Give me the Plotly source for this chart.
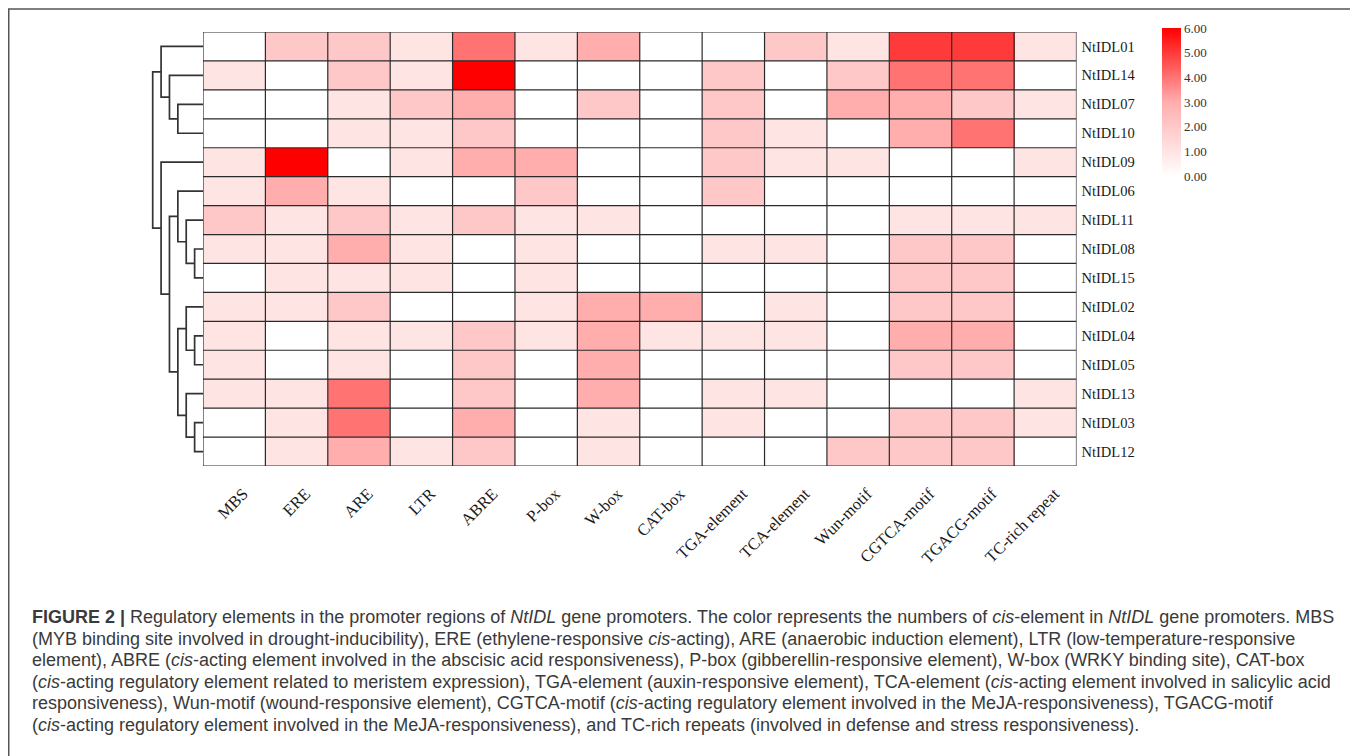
import plotly.graph_objects as go

# The page body has an 8px margin, so the figure is sized to fill the window exactly
OFF = 8
W, H = 1358 - OFF, 756 - OFF

elements = ["MBS", "ERE", "ARE", "LTR", "ABRE", "P-box", "W-box", "CAT-box",
            "TGA-element", "TCA-element", "Wun-motif", "CGTCA-motif", "TGACG-motif",
            "TC-rich repeat"]
genes = ["NtIDL01", "NtIDL14", "NtIDL07", "NtIDL10", "NtIDL09", "NtIDL06", "NtIDL11",
         "NtIDL08", "NtIDL15", "NtIDL02", "NtIDL04", "NtIDL05", "NtIDL13", "NtIDL03",
         "NtIDL12"]

# counts of cis-elements (rows follow genes, columns follow elements)
NtIDL01 = [0, 2, 2, 1, 4, 1, 3, 0, 0, 2, 1, 5, 5, 1]
NtIDL14 = [1, 0, 2, 1, 6, 0, 0, 0, 2, 0, 2, 4, 4, 0]
NtIDL07 = [0, 0, 1, 2, 3, 0, 2, 0, 2, 0, 3, 3, 2, 1]
NtIDL10 = [0, 0, 1, 1, 2, 0, 0, 0, 2, 1, 0, 3, 4, 0]
NtIDL09 = [1, 6, 0, 1, 3, 3, 0, 0, 2, 1, 1, 0, 0, 1]
NtIDL06 = [1, 3, 1, 0, 0, 2, 0, 0, 2, 0, 0, 0, 0, 0]
NtIDL11 = [2, 1, 2, 1, 2, 1, 1, 0, 0, 0, 0, 1, 1, 1]
NtIDL08 = [1, 1, 3, 1, 0, 1, 0, 0, 1, 1, 0, 2, 2, 0]
NtIDL15 = [0, 1, 1, 1, 0, 1, 0, 0, 0, 0, 0, 2, 2, 0]
NtIDL02 = [1, 1, 2, 0, 0, 1, 3, 3, 0, 1, 0, 2, 2, 0]
NtIDL04 = [1, 0, 1, 1, 2, 1, 3, 1, 1, 1, 0, 3, 3, 0]
NtIDL05 = [1, 0, 1, 0, 2, 0, 3, 0, 0, 0, 0, 2, 2, 0]
NtIDL13 = [1, 1, 4, 0, 2, 0, 3, 0, 1, 1, 0, 0, 0, 1]
NtIDL03 = [0, 1, 4, 0, 3, 0, 1, 0, 1, 0, 0, 2, 2, 1]
NtIDL12 = [0, 1, 3, 1, 2, 0, 1, 0, 0, 0, 2, 2, 2, 0]
values = [NtIDL01, NtIDL14, NtIDL07, NtIDL10, NtIDL09, NtIDL06, NtIDL11, NtIDL08,
          NtIDL15, NtIDL02, NtIDL04, NtIDL05, NtIDL13, NtIDL03, NtIDL12]

# hierarchical clustering of rows: (child a, child b, height); leaves = row index
linkage = [(2, 3, 3), (1, 15, 4), (0, 16, 5),
           (7, 8, 1), (6, 18, 2), (5, 19, 3),
           (10, 11, 1), (9, 21, 2), (13, 14, 1), (12, 23, 2), (22, 24, 3),
           (20, 25, 4), (4, 26, 5), (17, 27, 6)]

cbar_ticks = [0, 1, 2, 3, 4, 5, 6]

caption_lines = [
    "<b>FIGURE 2 |</b> Regulatory elements in the promoter regions of <i>NtIDL</i> gene promoters. The color represents the numbers of <i>cis</i>-element in <i>NtIDL</i> gene promoters. MBS",
    "(MYB binding site involved in drought-inducibility), ERE (ethylene-responsive <i>cis</i>-acting), ARE (anaerobic induction element), LTR (low-temperature-responsive",
    "element), ABRE (<i>cis</i>-acting element involved in the abscisic acid responsiveness), P-box (gibberellin-responsive element), W-box (WRKY binding site), CAT-box",
    "(<i>cis</i>-acting regulatory element related to meristem expression), TGA-element (auxin-responsive element), TCA-element (<i>cis</i>-acting element involved in salicylic acid",
    "responsiveness), Wun-motif (wound-responsive element), CGTCA-motif (<i>cis</i>-acting regulatory element involved in the MeJA-responsiveness), TGACG-motif",
    "(<i>cis</i>-acting regulatory element involved in the MeJA-responsiveness), and TC-rich repeats (involved in defense and stress responsiveness).",
]

SERIF = "Liberation Serif, Times New Roman, serif"
SANS = "Liberation Sans, Arial, sans-serif"


def px(xw):
    return (xw - OFF) / W


def py(yw):
    return 1 - (yw - OFF) / H


# layout geometry (window pixels)
gx0, gx1 = 203, 1076.5
gy0, gy1 = 32, 466
dend_root, dend_left = 152.7, 150

fig = go.Figure()

colorscale = [[0.0, "#ffffff"], [0.5, "#ffadad"], [1.0, "#ff0000"]]
fig.add_trace(go.Heatmap(
    z=values, x=list(range(len(elements))), y=list(range(len(genes))),
    zmin=0, zmax=6, colorscale=colorscale, showscale=True,
    colorbar=dict(
        x=px(1161.5), xanchor="left", y=py(28), yanchor="top",
        lenmode="pixels", len=148, thickness=19, thicknessmode="pixels",
        xpad=0, ypad=0, outlinewidth=0,
        tickvals=cbar_ticks, tickformat=".2f", ticks="",
        tickfont=dict(family=SERIF, size=13, color="#333333"),
    ),
    xaxis="x", yaxis="y", hoverinfo="skip",
))

# dendrogram
n = len(genes)
pos = {i: (0.0, float(i)) for i in range(n)}
for k, (a, b, h) in enumerate(linkage):
    ha, ya = pos[a]
    hb, yb = pos[b]
    fig.add_trace(go.Scatter(
        x=[ha, h, h, hb], y=[ya, ya, yb, yb], mode="lines",
        line=dict(color="#333333", width=1.7),
        xaxis="x2", yaxis="y", showlegend=False, hoverinfo="skip",
    ))
    pos[n + k] = (float(h), (ya + yb) / 2)

# grid lines
shapes = []
for i in range(len(genes) + 1):
    shapes.append(dict(type="line", xref="x", yref="y", x0=-0.5, x1=len(elements) - 0.5,
                       y0=i - 0.5, y1=i - 0.5, line=dict(color="#2a2a2a", width=1.2), layer="above"))
for j in range(len(elements) + 1):
    shapes.append(dict(type="line", xref="x", yref="y", x0=j - 0.5, x1=j - 0.5,
                       y0=-0.5, y1=len(genes) - 0.5, line=dict(color="#2a2a2a", width=1.2), layer="above"))
# outer frame of the figure panel
shapes.append(dict(type="rect", xref="paper", yref="paper", x0=0.75 / W, x1=px(1355),
                   y0=-0.05, y1=py(9), line=dict(color="#555555", width=1.5),
                   fillcolor="rgba(0,0,0,0)", layer="above"))

annotations = []
line_y0, line_dy = 617, 21.6
for i, t in enumerate(caption_lines):
    annotations.append(dict(
        text=t, xref="paper", yref="paper", x=px(30), y=py(line_y0 + i * line_dy),
        xanchor="left", yanchor="middle", showarrow=False, align="left",
        font=dict(family=SANS, size=18, color="#3a3a3a"),
    ))

maxh = max(h for _, _, h in linkage)
fig.update_layout(
    width=W, height=H, margin=dict(l=0, r=0, t=0, b=0),
    paper_bgcolor="white", plot_bgcolor="white", showlegend=False,
    xaxis=dict(domain=[px(gx0), px(gx1)], range=[-0.5, len(elements) - 0.5],
               tickvals=list(range(len(elements))), ticktext=elements, tickangle=-45,
               showgrid=False, zeroline=False, showline=False, ticks="",
               ticklabelstandoff=14, ticklabelshift=9,
               tickfont=dict(family=SERIF, size=16.5, color="#1a1a1a")),
    yaxis=dict(domain=[py(gy1), py(gy0)], range=[len(genes) - 0.5, -0.5],
               tickvals=list(range(len(genes))), ticktext=genes, side="right",
               showgrid=False, zeroline=False, showline=False, ticks="",
               ticklabelstandoff=4,
               tickfont=dict(family=SERIF, size=14.5, color="#1a1a1a")),
    xaxis2=dict(domain=[px(dend_left), px(gx0)],
                range=[maxh * (gx0 - dend_left) / (gx0 - dend_root), 0],
                showgrid=False, zeroline=False, showline=False, showticklabels=False,
                ticks="", anchor="y"),
    shapes=shapes, annotations=annotations,
)

fig.write_html("out.html")
